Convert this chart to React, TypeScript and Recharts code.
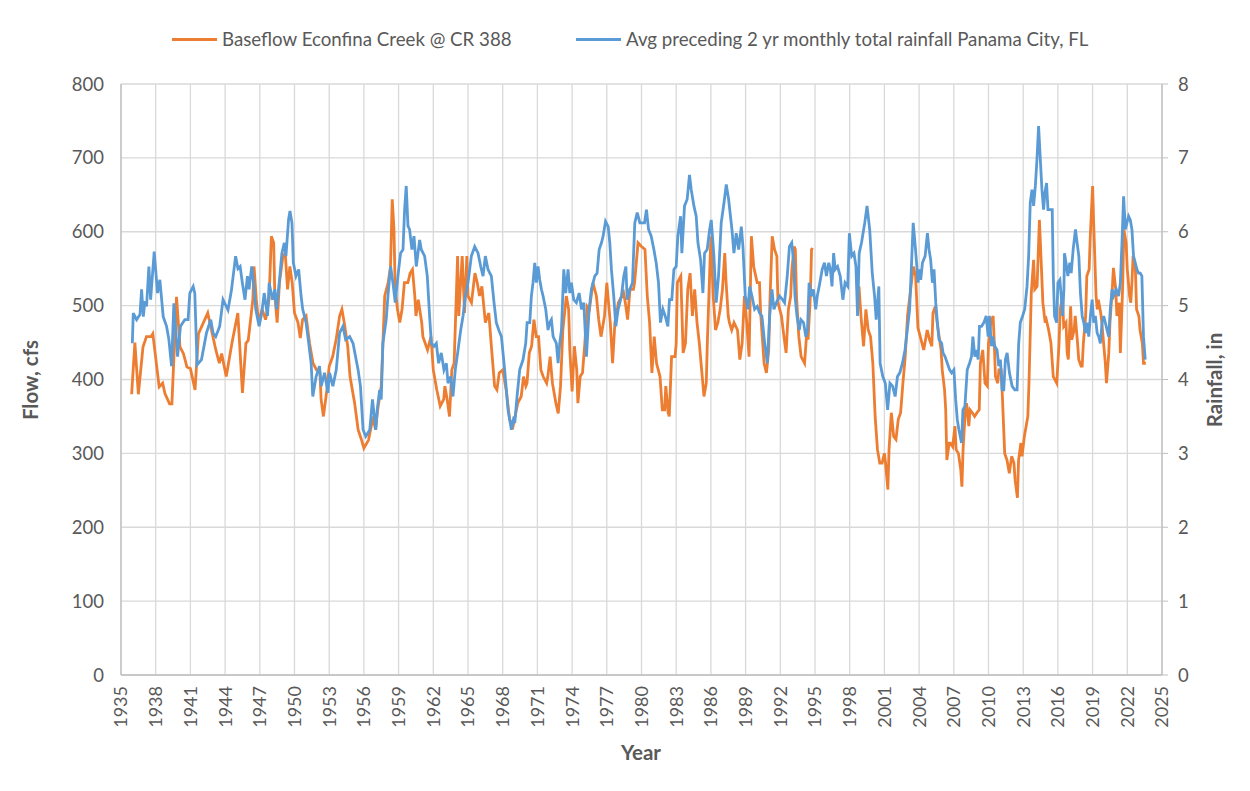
import React from 'react';
import {
  LineChart,
  Line,
  XAxis,
  YAxis,
  CartesianGrid,
  Legend,
} from 'recharts';

// Baseflow, Econfina Creek @ CR 388 (cfs), [year, flow]
const FLOW_1935_1957: [number, number][] = [
  [1935.92, 380], [1936.2, 450], [1936.5, 380], [1936.9, 444], [1937.2, 458], [1937.6, 458],
  [1937.75, 462], [1938.3, 390], [1938.6, 395], [1938.8, 381], [1939.2, 367], [1939.4, 367],
  [1939.8, 512], [1940.1, 444], [1940.4, 435], [1940.7, 417], [1941.0, 415], [1941.4, 386],
  [1941.7, 462], [1942.5, 490], [1943.2, 440], [1943.5, 422], [1943.7, 435], [1944.1, 404],
  [1944.6, 450], [1945.1, 490], [1945.5, 382], [1945.8, 449], [1946.0, 453], [1946.4, 508],
  [1946.5, 553], [1946.7, 508], [1946.9, 477], [1947.2, 495], [1947.5, 481], [1947.8, 508],
  [1948.0, 594], [1948.2, 585], [1948.3, 513], [1948.5, 477], [1948.7, 531], [1949.0, 567],
  [1949.2, 571], [1949.4, 522], [1949.6, 553], [1949.8, 531], [1950.0, 490], [1950.3, 477],
  [1950.5, 456], [1950.7, 481], [1951.0, 486], [1951.3, 449], [1951.6, 422], [1951.9, 413],
  [1952.2, 409], [1952.3, 373], [1952.5, 350], [1952.8, 386], [1953.0, 418], [1953.3, 431],
  [1953.6, 454], [1953.9, 486], [1954.1, 495], [1954.3, 477], [1954.6, 445], [1954.8, 404],
  [1955.2, 368], [1955.5, 332], [1955.8, 318], [1956.0, 307], [1956.4, 318], [1956.8, 350],
  [1957.0, 332],
];

const FLOW_1957_1980: [number, number][] = [
  [1957.2, 360], [1957.5, 391], [1957.7, 472], [1957.8, 513], [1958.1, 531], [1958.3, 553],
  [1958.45, 644], [1958.6, 603], [1958.7, 526], [1958.9, 495], [1959.1, 477], [1959.3, 495],
  [1959.5, 531], [1959.8, 531], [1960.0, 544], [1960.2, 549], [1960.4, 513], [1960.5, 486],
  [1960.7, 508], [1961.0, 477], [1961.1, 458], [1961.3, 449], [1961.5, 440], [1961.8, 458],
  [1962.0, 413], [1962.3, 386], [1962.6, 364], [1962.9, 373], [1963.0, 391], [1963.2, 373],
  [1963.4, 350], [1963.6, 413], [1963.8, 422], [1964.1, 567], [1964.2, 486], [1964.5, 567],
  [1964.7, 490], [1964.9, 567], [1965.0, 513], [1965.3, 504], [1965.6, 544], [1965.8, 531],
  [1966.0, 513], [1966.2, 526], [1966.5, 477], [1966.8, 490], [1967.0, 449], [1967.3, 391],
  [1967.5, 386], [1967.7, 409], [1968.0, 413], [1968.3, 386], [1968.6, 346], [1968.9, 337],
  [1969.3, 368], [1969.6, 377], [1969.8, 404], [1970.0, 391], [1970.1, 395], [1970.3, 436],
  [1970.5, 445], [1970.7, 481], [1970.9, 458], [1971.1, 458], [1971.3, 413], [1971.5, 404],
  [1971.8, 395], [1971.9, 404], [1972.1, 431], [1972.3, 395], [1972.6, 368], [1972.8, 354],
  [1973.0, 391], [1973.2, 467], [1973.5, 513], [1973.7, 495], [1973.8, 440], [1974.0, 384],
  [1974.2, 445], [1974.4, 413], [1974.5, 368], [1974.7, 404], [1974.9, 409], [1975.1, 449],
  [1975.3, 499], [1975.5, 495], [1975.8, 531], [1976.1, 513], [1976.3, 481], [1976.5, 458],
  [1976.8, 486], [1977.0, 531], [1977.3, 477], [1977.5, 422], [1977.7, 477], [1978.0, 504],
  [1978.3, 513], [1978.4, 522], [1978.6, 504], [1978.8, 481], [1979.0, 522], [1979.3, 522],
  [1979.4, 531], [1979.7, 585], [1980.0, 580], [1980.3, 576],
];

const FLOW_1980_1995: [number, number][] = [
  [1980.5, 513], [1980.7, 477], [1980.9, 409], [1981.1, 458], [1981.3, 422], [1981.6, 404],
  [1981.8, 359], [1982.0, 359], [1982.1, 391], [1982.3, 355], [1982.4, 350], [1982.6, 431],
  [1982.9, 431], [1983.0, 449], [1983.1, 531], [1983.4, 540], [1983.6, 436], [1983.8, 449],
  [1984.0, 522], [1984.2, 544], [1984.4, 486], [1984.6, 522], [1984.8, 477], [1985.0, 449],
  [1985.2, 413], [1985.4, 377], [1985.6, 395], [1985.7, 454], [1986.0, 594], [1986.2, 513],
  [1986.4, 467], [1986.6, 477], [1986.8, 495], [1987.0, 522], [1987.2, 571], [1987.3, 535],
  [1987.5, 486], [1987.6, 477], [1987.8, 467], [1988.0, 477], [1988.3, 467], [1988.5, 427],
  [1988.7, 449], [1988.9, 513], [1989.1, 477], [1989.3, 431], [1989.5, 594], [1989.7, 553],
  [1990.0, 531], [1990.2, 531], [1990.3, 490], [1990.6, 422], [1990.8, 409], [1991.0, 440],
  [1991.1, 504], [1991.3, 594], [1991.5, 576], [1991.7, 567], [1991.8, 504], [1992.1, 486],
  [1992.3, 460], [1992.5, 436], [1992.7, 495], [1992.9, 513], [1993.0, 549], [1993.2, 580],
  [1993.3, 576], [1993.4, 513], [1993.6, 458], [1993.8, 431], [1994.1, 422], [1994.3, 467],
  [1994.4, 454], [1994.6, 513], [1994.7, 576], [1994.8, 578],
];

const FLOW_1999_2024: [number, number][] = [
  [1998.8, 526], [1999.0, 481], [1999.2, 445], [1999.4, 495], [1999.6, 467], [1999.8, 458],
  [2000.0, 422], [2000.2, 350], [2000.4, 305], [2000.6, 287], [2000.8, 287], [2001.0, 300],
  [2001.1, 287], [2001.3, 251], [2001.4, 305], [2001.6, 355], [2001.8, 323], [2002.0, 319],
  [2002.2, 346], [2002.4, 355], [2002.6, 395], [2002.8, 431], [2003.0, 486], [2003.3, 526],
  [2003.5, 553], [2003.7, 540], [2003.9, 470], [2004.1, 458], [2004.4, 440], [2004.6, 458],
  [2004.7, 467], [2004.9, 454], [2005.1, 445], [2005.2, 490], [2005.4, 499], [2005.6, 472],
  [2005.9, 440], [2006.0, 413], [2006.2, 386], [2006.3, 359], [2006.4, 291], [2006.6, 314],
  [2006.7, 314], [2006.9, 309], [2007.1, 337], [2007.2, 305], [2007.4, 300], [2007.6, 278],
  [2007.7, 255], [2007.8, 305], [2008.0, 359], [2008.1, 368], [2008.3, 337], [2008.4, 359],
  [2008.6, 355], [2008.8, 350], [2009.0, 355], [2009.2, 359], [2009.3, 422], [2009.5, 440],
  [2009.6, 418], [2009.7, 395], [2009.9, 391], [2010.0, 449], [2010.2, 477], [2010.4, 486],
  [2010.5, 449], [2010.6, 404], [2010.8, 395], [2010.9, 413], [2011.1, 413], [2011.2, 377],
  [2011.4, 300], [2011.6, 291], [2011.8, 273], [2012.0, 296], [2012.2, 287], [2012.3, 264],
  [2012.5, 240], [2012.6, 291], [2012.8, 314], [2012.9, 296], [2013.1, 323], [2013.2, 332],
  [2013.4, 350], [2013.5, 395], [2013.7, 517], [2013.9, 562], [2014.0, 522], [2014.2, 526],
  [2014.4, 616], [2014.5, 580], [2014.7, 504], [2014.9, 477], [2015.0, 481], [2015.2, 467],
  [2015.4, 449], [2015.6, 404], [2015.9, 395], [2016.1, 449], [2016.2, 495], [2016.4, 513],
  [2016.5, 472], [2016.7, 477], [2016.8, 436], [2016.9, 427], [2017.1, 499], [2017.2, 454],
  [2017.4, 467], [2017.5, 486], [2017.7, 449], [2017.8, 427], [2018.0, 418], [2018.1, 418],
  [2018.2, 449], [2018.4, 486], [2018.5, 540], [2018.7, 549], [2018.8, 594], [2019.0, 662],
  [2019.1, 608], [2019.3, 513], [2019.4, 495], [2019.5, 508], [2019.7, 490], [2019.8, 477],
  [2020.0, 440], [2020.1, 422], [2020.2, 395], [2020.4, 436], [2020.5, 477], [2020.7, 522],
  [2020.8, 551], [2021.0, 522], [2021.1, 486], [2021.3, 504], [2021.4, 436], [2021.6, 526],
  [2021.7, 603], [2021.9, 585], [2022.0, 549], [2022.2, 513], [2022.3, 504], [2022.4, 531],
  [2022.5, 567], [2022.7, 549], [2022.8, 495], [2023.0, 486], [2023.1, 467], [2023.3, 449],
  [2023.4, 422], [2023.6, 422],
];

// Avg preceding 2 yr monthly total rainfall, Panama City FL (in), [year, rain]
const RAIN_1936_1957: [number, number][] = [
  [1935.98, 4.49], [1936.06, 4.9], [1936.35, 4.81], [1936.64, 4.88], [1936.78, 5.22], [1936.93, 4.85],
  [1937.07, 5.06], [1937.21, 4.99], [1937.41, 5.53], [1937.56, 5.08], [1937.87, 5.73], [1938.16, 5.17],
  [1938.36, 5.35], [1938.65, 4.85], [1938.94, 4.72], [1939.14, 4.54], [1939.37, 4.18], [1939.57, 5.03],
  [1939.89, 4.31], [1940.14, 4.72], [1940.52, 4.81], [1940.8, 4.81], [1940.95, 5.17], [1941.24, 5.26],
  [1941.38, 5.17], [1941.58, 4.2], [1941.96, 4.27], [1942.39, 4.63], [1942.76, 4.81], [1942.96, 4.63],
  [1943.19, 4.58], [1943.53, 4.72], [1943.82, 5.08], [1944.25, 4.94], [1944.54, 5.2], [1944.91, 5.67],
  [1945.11, 5.5], [1945.3, 5.53], [1945.49, 5.31], [1945.72, 5.08], [1945.93, 5.4], [1946.07, 5.22],
  [1946.3, 5.53], [1946.5, 5.26], [1946.65, 4.95], [1946.94, 4.72], [1947.17, 4.9], [1947.38, 5.17],
  [1947.67, 4.86], [1947.81, 5.31], [1948.1, 5.08], [1948.3, 5.22], [1948.45, 4.95], [1948.68, 5.31],
  [1948.91, 5.71], [1949.12, 5.85], [1949.26, 5.67], [1949.49, 6.17], [1949.61, 6.28], [1949.78, 6.12],
  [1949.9, 5.58], [1950.13, 5.4], [1950.36, 5.49], [1950.57, 5.13], [1950.71, 4.95], [1951.0, 4.77],
  [1951.23, 4.49], [1951.44, 4.22], [1951.58, 3.77], [1951.87, 4.04], [1952.16, 4.18], [1952.31, 3.91],
  [1952.6, 4.09], [1952.89, 3.82], [1953.03, 4.09], [1953.32, 3.91], [1953.61, 4.13], [1953.9, 4.63],
  [1954.19, 4.72], [1954.42, 4.54], [1954.77, 4.58], [1955.06, 4.49], [1955.5, 4.13], [1955.7, 3.91],
  [1955.93, 3.32], [1956.16, 3.23], [1956.51, 3.32], [1956.74, 3.73], [1957.03, 3.32],
];

const RAIN_1957_1980: [number, number][] = [
  [1957.15, 3.59], [1957.36, 3.86], [1957.5, 3.73], [1957.64, 4.49], [1957.93, 4.81], [1958.08, 5.13],
  [1958.31, 5.53], [1958.51, 5.31], [1958.71, 5.04], [1958.94, 5.4], [1959.17, 5.71], [1959.38, 5.76],
  [1959.52, 6.3], [1959.66, 6.62], [1959.81, 6.08], [1959.95, 6.03], [1960.15, 5.76], [1960.33, 5.94],
  [1960.53, 5.53], [1960.82, 5.89], [1960.96, 5.76], [1961.25, 5.67], [1961.48, 5.4], [1961.68, 4.86],
  [1961.83, 4.49], [1962.06, 4.45], [1962.26, 4.49], [1962.46, 4.22], [1962.69, 4.36], [1962.92, 4.13],
  [1963.13, 4.22], [1963.27, 3.95], [1963.5, 4.04], [1963.7, 3.77], [1963.9, 4.13], [1964.14, 4.4],
  [1964.37, 4.67], [1964.57, 4.86], [1964.77, 5.13], [1965.0, 5.31], [1965.29, 5.67], [1965.58, 5.8],
  [1965.87, 5.71], [1966.1, 5.53], [1966.3, 5.4], [1966.5, 5.67], [1966.73, 5.49], [1967.02, 5.4],
  [1967.25, 5.04], [1967.45, 4.77], [1967.66, 4.67], [1967.89, 4.58], [1968.17, 4.13], [1968.46, 3.59],
  [1968.75, 3.32], [1968.98, 3.5], [1969.04, 3.41], [1969.24, 3.77], [1969.47, 4.13], [1969.76, 4.27],
  [1969.99, 4.49], [1970.11, 4.77], [1970.34, 4.77], [1970.48, 5.13], [1970.62, 5.31], [1970.77, 5.58],
  [1970.91, 5.31], [1971.06, 5.53], [1971.2, 5.35], [1971.35, 5.22], [1971.49, 5.13], [1971.72, 4.95],
  [1971.92, 4.67], [1972.07, 4.77], [1972.21, 4.81], [1972.36, 4.58], [1972.64, 4.49], [1972.79, 4.22],
  [1972.93, 4.49], [1973.08, 4.67], [1973.28, 5.49], [1973.45, 5.17], [1973.65, 5.49], [1973.8, 5.17],
  [1973.94, 5.31], [1974.14, 5.08], [1974.37, 5.04], [1974.61, 5.17], [1974.81, 4.95], [1975.01, 5.04],
  [1975.24, 4.31], [1975.47, 4.95], [1975.67, 5.22], [1975.96, 5.4], [1976.16, 5.44], [1976.34, 5.76],
  [1976.54, 5.85], [1976.68, 5.94], [1976.89, 6.14], [1977.12, 6.07], [1977.26, 5.85], [1977.4, 5.49],
  [1977.6, 5.13], [1977.78, 4.72], [1977.98, 4.95], [1978.27, 5.13], [1978.47, 5.4], [1978.65, 5.53],
  [1978.76, 5.08], [1978.99, 5.22], [1979.22, 5.31], [1979.42, 6.12], [1979.63, 6.26], [1979.86, 6.12],
  [1980.15, 6.12], [1980.26, 6.12],
];

const RAIN_1980_2003: [number, number][] = [
  [1980.43, 6.3], [1980.61, 6.03], [1980.84, 5.94], [1981.07, 5.76], [1981.27, 5.58], [1981.47, 5.31],
  [1981.64, 4.77], [1981.85, 4.95], [1982.05, 4.86], [1982.28, 4.72], [1982.42, 5.08], [1982.62, 5.08],
  [1982.8, 5.49], [1983.0, 5.53], [1983.14, 5.94], [1983.38, 6.21], [1983.49, 5.71], [1983.72, 6.35],
  [1983.95, 6.44], [1984.15, 6.77], [1984.3, 6.57], [1984.53, 6.35], [1984.73, 6.21], [1984.88, 5.85],
  [1985.11, 5.62], [1985.31, 5.17], [1985.45, 5.71], [1985.68, 5.76], [1985.89, 6.03], [1986.03, 6.16],
  [1986.26, 5.67], [1986.46, 5.04], [1986.66, 5.4], [1986.89, 6.12], [1987.13, 6.39], [1987.33, 6.64],
  [1987.53, 6.44], [1987.82, 6.03], [1987.99, 5.71], [1988.19, 5.98], [1988.4, 5.76], [1988.63, 6.07],
  [1988.77, 5.8], [1988.97, 5.13], [1989.2, 4.95], [1989.35, 5.26], [1989.55, 5.13], [1989.78, 4.95],
  [1990.01, 4.99], [1990.21, 4.9], [1990.41, 4.86], [1990.65, 4.49], [1990.88, 4.22], [1991.08, 4.86],
  [1991.28, 5.22], [1991.45, 4.95], [1991.66, 5.04], [1991.94, 5.13], [1992.2, 5.08], [1992.37, 5.04],
  [1992.6, 5.4], [1992.79, 5.8], [1992.99, 5.85], [1993.16, 5.58], [1993.27, 5.13], [1993.44, 4.86],
  [1993.64, 4.67], [1993.78, 4.81], [1994.01, 4.77], [1994.21, 4.58], [1994.35, 4.67], [1994.49, 5.31],
  [1994.69, 5.13], [1994.86, 5.22], [1995.06, 4.95], [1995.2, 5.13], [1995.42, 5.31], [1995.62, 5.49],
  [1995.82, 5.58], [1995.99, 5.4], [1996.19, 5.58], [1996.33, 5.49], [1996.47, 5.26], [1996.61, 5.71],
  [1996.75, 5.49], [1996.95, 5.53], [1997.18, 5.4], [1997.41, 5.08], [1997.6, 5.31], [1997.83, 5.26],
  [1997.97, 5.98], [1998.17, 5.67], [1998.37, 5.71], [1998.54, 5.53], [1998.68, 4.86], [1998.82, 5.71],
  [1999.02, 5.85], [1999.3, 6.12], [1999.5, 6.35], [1999.73, 6.03], [1999.95, 5.44], [2000.15, 5.13],
  [2000.29, 4.81], [2000.52, 5.26], [2000.63, 4.22], [2000.86, 4.04], [2001.08, 3.95], [2001.28, 3.59],
  [2001.48, 3.95], [2001.71, 3.91], [2001.93, 3.77], [2002.13, 4.04], [2002.33, 4.09], [2002.56, 4.22],
  [2002.78, 4.4], [2002.98, 4.67], [2003.18, 4.95], [2003.35, 5.58], [2003.49, 6.12], [2003.69, 5.76],
  [2003.91, 5.31],
];

const RAIN_2004_2024: [number, number][] = [
  [2004.0, 5.49], [2004.14, 5.35], [2004.29, 5.58], [2004.52, 5.67], [2004.72, 5.98], [2004.86, 5.76],
  [2005.0, 5.62], [2005.15, 5.31], [2005.29, 5.49], [2005.44, 5.04], [2005.58, 4.77], [2005.72, 4.54],
  [2005.95, 4.49], [2006.07, 4.36], [2006.24, 4.31], [2006.44, 4.22], [2006.64, 4.13], [2006.81, 4.09],
  [2007.01, 4.13], [2007.16, 3.73], [2007.3, 3.46], [2007.44, 3.32], [2007.67, 3.14], [2007.79, 3.59],
  [2007.96, 3.64], [2008.16, 4.13], [2008.36, 4.22], [2008.53, 4.31], [2008.65, 4.58], [2008.82, 4.31],
  [2008.94, 4.4], [2009.11, 4.27], [2009.22, 4.72], [2009.4, 4.72], [2009.6, 4.77], [2009.8, 4.86],
  [2009.97, 4.58], [2010.08, 4.86], [2010.26, 4.45], [2010.37, 4.58], [2010.54, 4.45], [2010.74, 4.4],
  [2010.89, 4.18], [2011.03, 4.27], [2011.18, 3.86], [2011.32, 3.86], [2011.46, 4.27], [2011.61, 4.36],
  [2011.81, 4.09], [2012.04, 3.91], [2012.27, 3.86], [2012.47, 3.86], [2012.61, 4.49], [2012.75, 4.77],
  [2012.95, 4.86], [2013.13, 4.95], [2013.33, 5.26], [2013.47, 5.67], [2013.61, 6.39], [2013.76, 6.57],
  [2013.9, 6.35], [2014.05, 6.62], [2014.19, 6.98], [2014.33, 7.43], [2014.48, 6.98], [2014.62, 6.57],
  [2014.76, 6.3], [2014.88, 6.53], [2015.02, 6.66], [2015.14, 6.3], [2015.31, 6.3], [2015.51, 6.3],
  [2015.6, 5.4], [2015.71, 4.86], [2015.89, 4.77], [2016.0, 5.31], [2016.17, 5.35], [2016.29, 5.13],
  [2016.4, 4.86], [2016.52, 5.22], [2016.57, 5.71], [2016.75, 5.53], [2016.86, 5.4], [2017.03, 5.58],
  [2017.15, 5.44], [2017.32, 5.76], [2017.52, 6.03], [2017.66, 5.85], [2017.81, 5.67], [2017.95, 5.17],
  [2018.1, 4.86], [2018.24, 4.77], [2018.38, 4.63], [2018.53, 4.77], [2018.67, 4.58], [2018.81, 4.86],
  [2018.96, 5.08], [2019.1, 4.77], [2019.24, 4.86], [2019.39, 4.63], [2019.53, 4.58], [2019.67, 4.49],
  [2019.82, 4.77], [2019.96, 4.86], [2020.1, 4.77], [2020.25, 4.67], [2020.39, 4.58], [2020.53, 4.95],
  [2020.68, 5.22], [2020.82, 5.13], [2021.05, 5.22], [2021.25, 5.13], [2021.4, 5.31], [2021.54, 5.85],
  [2021.68, 6.48], [2021.83, 6.03], [2021.97, 6.12], [2022.11, 6.21], [2022.26, 6.16], [2022.4, 6.03],
  [2022.54, 5.67], [2022.69, 5.58], [2022.83, 5.49], [2022.97, 5.44], [2023.12, 5.44], [2023.26, 5.4],
  [2023.4, 4.58], [2023.55, 4.27],
];

const YEAR_TICKS = [
  1935, 1938, 1941, 1944, 1947, 1950, 1953, 1956, 1959, 1962, 1965, 1968, 1971, 1974, 1977, 1980,
  1983, 1986, 1989, 1992, 1995, 1998, 2001, 2004, 2007, 2010, 2013, 2016, 2019, 2022, 2025,
];
const FLOW_TICKS = [0, 100, 200, 300, 400, 500, 600, 700, 800];
const RAIN_TICKS = [0, 1, 2, 3, 4, 5, 6, 7, 8];

const FLOW_NAME = 'Baseflow Econfina Creek @ CR 388';
const RAIN_NAME = 'Avg preceding 2 yr monthly total rainfall Panama City, FL';

const ORANGE = '#ED7D31';
const BLUE = '#5B9BD5';
const TEXT = '#595959';
const FONT = 'Lato, "Open Sans", sans-serif';

// orange record has no values between late 1994 and late 1998
const flowData = [
  ...[...FLOW_1935_1957, ...FLOW_1957_1980, ...FLOW_1980_1995].map(([year, cfs]) => ({ year, cfs })),
  { year: 1996.8, cfs: null },
  ...FLOW_1999_2024.map(([year, cfs]) => ({ year, cfs })),
];

const rainData = [...RAIN_1936_1957, ...RAIN_1957_1980, ...RAIN_1980_2003, ...RAIN_2004_2024].map(
  ([year, rain]) => ({ year, rain })
);

const YearTick = (props: any) => {
  const { x, y, payload } = props;
  return (
    <text
      x={x}
      y={y}
      transform={`rotate(-90 ${x} ${y})`}
      textAnchor="end"
      dy="0.36em"
      fill={TEXT}
      fontSize={18}
      fontFamily={FONT}
    >
      {payload.value}
    </text>
  );
};

const LegendBox = () => (
  <div style={{ position: 'relative', height: 30, fontFamily: FONT, fontSize: 18.7, color: TEXT }}>
    <div style={{ position: 'absolute', left: 172, top: 2, display: 'flex', alignItems: 'center', whiteSpace: 'nowrap' }}>
      <span style={{ width: 45, height: 3, background: ORANGE, marginRight: 5 }} />
      <span>{FLOW_NAME}</span>
    </div>
    <div style={{ position: 'absolute', left: 576, top: 2, display: 'flex', alignItems: 'center', whiteSpace: 'nowrap' }}>
      <span style={{ width: 45, height: 3, background: BLUE, marginRight: 5 }} />
      <span>{RAIN_NAME}</span>
    </div>
  </div>
);

const axisTitle = (text: string, x: number, y: number, angle: number) => () => (
  <text
    x={x}
    y={y}
    transform={angle ? `rotate(${angle} ${x} ${y})` : undefined}
    textAnchor="middle"
    dominantBaseline="central"
    fill={TEXT}
    fontSize={20.5}
    fontWeight="bold"
    fontFamily={FONT}
  >
    {text}
  </text>
);

export default function App() {
  return (
    <div style={{ position: 'absolute', left: 0, top: 0, width: 1250, height: 791, background: '#fff' }}>
      <LineChart width={1250} height={791} margin={{ top: 84, right: 0, bottom: 0, left: 0 }}>
        <CartesianGrid yAxisId="flow" stroke="#d9d9d9" strokeWidth={1.3} />
        <XAxis
          dataKey="year"
          type="number"
          domain={[1935, 2025]}
          ticks={YEAR_TICKS}
          interval={0}
          allowDuplicatedCategory={false}
          height={116}
          tickLine={false}
          tickSize={0}
          tickMargin={11}
          tick={<YearTick />}
          axisLine={{ stroke: '#bfbfbf', strokeWidth: 1.3 }}
          label={{ content: axisTitle('Year', 641, 752, 0) }}
        />
        <YAxis
          yAxisId="flow"
          domain={[0, 800]}
          ticks={FLOW_TICKS}
          width={121}
          tickLine={false}
          tickSize={0}
          tickMargin={17}
          axisLine={{ stroke: '#bfbfbf', strokeWidth: 1.3 }}
          tick={{ fill: TEXT, fontSize: 18.5, fontFamily: FONT }}
          label={{ content: axisTitle('Flow, cfs', 30, 380, -90) }}
        />
        <YAxis
          yAxisId="rain"
          orientation="right"
          domain={[0, 8]}
          ticks={RAIN_TICKS}
          width={88}
          tickSize={6}
          tickMargin={10}
          tickLine={{ stroke: '#bfbfbf' }}
          axisLine={{ stroke: '#bfbfbf', strokeWidth: 1.3 }}
          tick={{ fill: TEXT, fontSize: 18.5, fontFamily: FONT }}
          label={{ content: axisTitle('Rainfall, in', 1214, 380, -90) }}
        />
        <Legend
          layout="horizontal"
          verticalAlign="middle"
          content={<LegendBox />}
          wrapperStyle={{ top: 26, left: 0, width: 1250 }}
        />
        <Line
          yAxisId="flow"
          data={flowData}
          dataKey="cfs"
          name={FLOW_NAME}
          type="linear"
          stroke={ORANGE}
          strokeWidth={2.8}
          dot={false}
          activeDot={false}
          connectNulls={false}
          isAnimationActive={false}
        />
        <Line
          yAxisId="rain"
          data={rainData}
          dataKey="rain"
          name={RAIN_NAME}
          type="linear"
          stroke={BLUE}
          strokeWidth={2.8}
          dot={false}
          activeDot={false}
          isAnimationActive={false}
        />
      </LineChart>
    </div>
  );
}
